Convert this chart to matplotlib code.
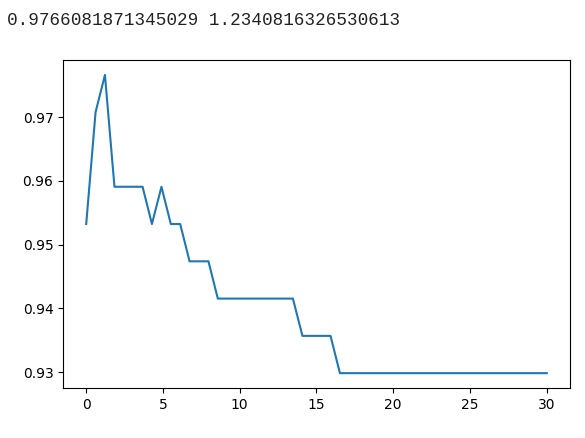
import numpy as np
import matplotlib.pyplot as plt

# regularisation values tried (50 steps from 0.01 to 30)
c_values = [0.01, 0.62, 1.23, 1.85, 2.46, 3.07, 3.68, 4.29, 4.91, 5.52,
            6.13, 6.74, 7.35, 7.97, 8.58, 9.19, 9.80, 10.41, 11.03, 11.64,
            12.25, 12.86, 13.47, 14.09, 14.70, 15.31, 15.92, 16.53, 17.15, 17.76,
            18.37, 18.98, 19.59, 20.21, 20.82, 21.43, 22.04, 22.65, 23.27, 23.88,
            24.49, 25.10, 25.71, 26.33, 26.94, 27.55, 28.16, 28.77, 29.39, 30.00]

# test accuracy (correct out of 171)
correct = [163, 166, 167, 164, 164, 164, 164, 163, 164, 163,
           163, 162, 162, 162, 161, 161, 161, 161, 161, 161,
           161, 161, 161, 160, 160, 160, 160, 159, 159, 159,
           159, 159, 159, 159, 159, 159, 159, 159, 159, 159,
           159, 159, 159, 159, 159, 159, 159, 159, 159, 159]
scores = [c / 171 for c in correct]

best = max(scores)
best_c = 1.2340816326530613

fig = plt.figure(figsize=(5.85, 4.38), dpi=100)
fig.text(0.012, 0.954, f"{best} {best_c}", family=['Liberation Mono'],
         fontsize=12.7, va='center', ha='left', color='#222222')

ax = fig.add_axes([0.108, 0.114, 0.866, 0.749])
ax.plot(c_values, scores, color='#1f77b4', linewidth=1.5)
ax.tick_params(labelsize=10)

plt.savefig('out.png')
